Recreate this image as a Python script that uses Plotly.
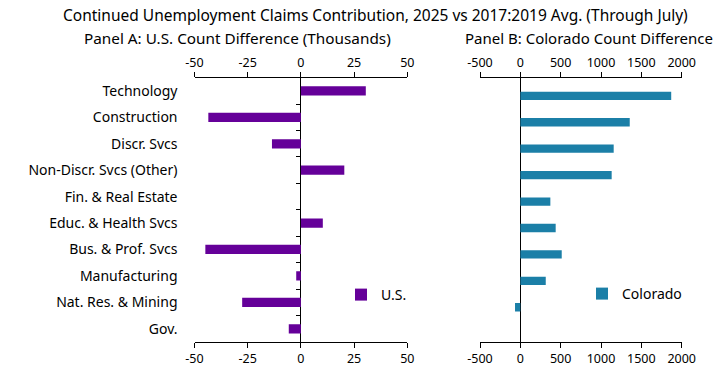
import plotly.graph_objects as go

categories = ["Technology", "Construction", "Discr. Svcs", "Non-Discr. Svcs (Other)",
              "Fin. & Real Estate", "Educ. & Health Svcs", "Bus. & Prof. Svcs",
              "Manufacturing", "Nat. Res. & Mining", "Gov."]
us_values = [30.5, -43.5, -13.6, 20.4, 0.0, 10.3, -44.9, -2.2, -27.6, -5.7]
co_values = [1870, 1356, 1157, 1132, 372, 438, 513, 315, -66, 0]
us_ticks = [-50, -25, 0, 25, 50]
us_tick_labels = ["-50", "-25", "0", "25", "50"]
co_ticks = [-500, 0, 500, 1000, 1500, 2000]
co_tick_labels = ["-500", "0", "500", "1000", "1500", "2000"]

FONT = "Noto Sans"
W, H = 725, 368
PURPLE = "#650099"
TEAL = "#1b7fa7"

# domains from pixel layout
ax0, ax1 = 194.5 / W, 407.3 / W
bx0, bx1 = 480.0 / W, 681.7 / W
y0, y1 = 1 - 342.0 / H, 1 - 77.7 / H
zero_a = ax0 + (ax1 - ax0) * (0 - us_ticks[0]) / (us_ticks[-1] - us_ticks[0])

fig = go.Figure()
fig.add_trace(go.Bar(x=us_values, y=categories, orientation="h", name="U.S.",
                     marker=dict(color=PURPLE, line=dict(width=0)),
                     width=0.35, offset=-0.175, xaxis="x", yaxis="y", legend="legend",
                     hoverinfo="skip"))
fig.add_trace(go.Bar(x=co_values, y=categories, orientation="h", name="Colorado",
                     marker=dict(color=TEAL, line=dict(width=0)),
                     width=0.315, offset=0.028, xaxis="x2", yaxis="y2", legend="legend2",
                     hoverinfo="skip"))
# invisible helpers so the mirrored top axes and zero-line ticks are drawn
fig.add_trace(go.Scatter(x=[0], y=[categories[0]], mode="markers", marker=dict(opacity=0),
                         xaxis="x3", yaxis="y3", showlegend=False, hoverinfo="skip"))
fig.add_trace(go.Scatter(x=[0], y=[categories[0]], mode="markers", marker=dict(opacity=0),
                         xaxis="x4", yaxis="y2", showlegend=False, hoverinfo="skip"))

xcommon = dict(showline=True, linecolor="black", linewidth=1, ticks="outside",
               ticklen=5, tickcolor="black", showgrid=False, automargin=False,
               tickfont=dict(family=FONT, size=12.5, color="black"))
fig.update_layout(
    width=W, height=H, margin=dict(l=0, r=0, t=0, b=0, autoexpand=False),
    paper_bgcolor="white", plot_bgcolor="white",
    font=dict(family=FONT, color="black"),
    xaxis=dict(domain=[ax0, ax1], range=[us_ticks[0], us_ticks[-1]], tickvals=us_ticks,
               ticktext=us_tick_labels,
               anchor="y", side="bottom", zeroline=True, zerolinecolor="black",
               zerolinewidth=1.3, **xcommon),
    xaxis3=dict(range=[us_ticks[0], us_ticks[-1]], tickvals=us_ticks, ticktext=us_tick_labels,
                overlaying="x", anchor="y", side="top", zeroline=False, **xcommon),
    xaxis2=dict(domain=[bx0, bx1], range=[co_ticks[0], co_ticks[-1]], tickvals=co_ticks,
                ticktext=co_tick_labels,
                anchor="y2", side="bottom", zeroline=True, zerolinecolor="black",
                zerolinewidth=1.3, **xcommon),
    xaxis4=dict(range=[co_ticks[0], co_ticks[-1]], tickvals=co_ticks, ticktext=co_tick_labels,
                overlaying="x2", anchor="y2", side="top", zeroline=False, **xcommon),
    yaxis=dict(domain=[y0, y1], type="category", categoryorder="array",
               categoryarray=categories, range=[len(categories) - 0.5, -0.5],
               showline=False, showgrid=False, zeroline=False, ticks="",
               ticklabelstandoff=16, anchor="x", automargin=False,
               tickfont=dict(family=FONT, size=14, color="black")),
    yaxis3=dict(type="category", categoryorder="array", categoryarray=categories,
                range=[len(categories) - 0.5, -0.5], overlaying="y", anchor="free",
                position=zero_a, side="left", tickson="boundaries", ticks="outside",
                ticklen=5, tickcolor="black", showticklabels=False, showline=False,
                showgrid=False, zeroline=False, automargin=False),
    yaxis2=dict(domain=[y0, y1], type="category", categoryorder="array",
                categoryarray=categories, range=[len(categories) - 0.5, -0.5],
                showline=False, showgrid=False, zeroline=False, ticks="",
                showticklabels=False, anchor="x2", automargin=False),
    legend=dict(x=341 / W, y=1 - 295 / H, xanchor="left", yanchor="middle",
                bgcolor="rgba(0,0,0,0)", font=dict(family=FONT, size=14, color="black")),
    legend2=dict(x=582 / W, y=1 - 294 / H, xanchor="left", yanchor="middle",
                 bgcolor="rgba(0,0,0,0)", font=dict(family=FONT, size=14, color="black")),
    showlegend=True,
    annotations=[
        dict(text="Continued Unemployment Claims Contribution, 2025 vs 2017:2019 Avg. (Through July)",
             x=375 / W, y=1 - 15 / H, xref="paper", yref="paper", showarrow=False,
             xanchor="center", yanchor="middle", font=dict(family=FONT, size=15.5, color="black")),
        dict(text="Panel A: U.S. Count Difference (Thousands)",
             x=237 / W, y=1 - 38 / H, xref="paper", yref="paper", showarrow=False,
             xanchor="center", yanchor="middle", font=dict(family=FONT, size=15.3, color="black")),
        dict(text="Panel B: Colorado Count Difference",
             x=589 / W, y=1 - 38 / H, xref="paper", yref="paper", showarrow=False,
             xanchor="center", yanchor="middle", font=dict(family=FONT, size=15, color="black")),
    ],
)
fig.write_html("out.html", config={"displayModeBar": False},
               post_script="document.body.style.margin='0';document.body.style.padding='0';")
